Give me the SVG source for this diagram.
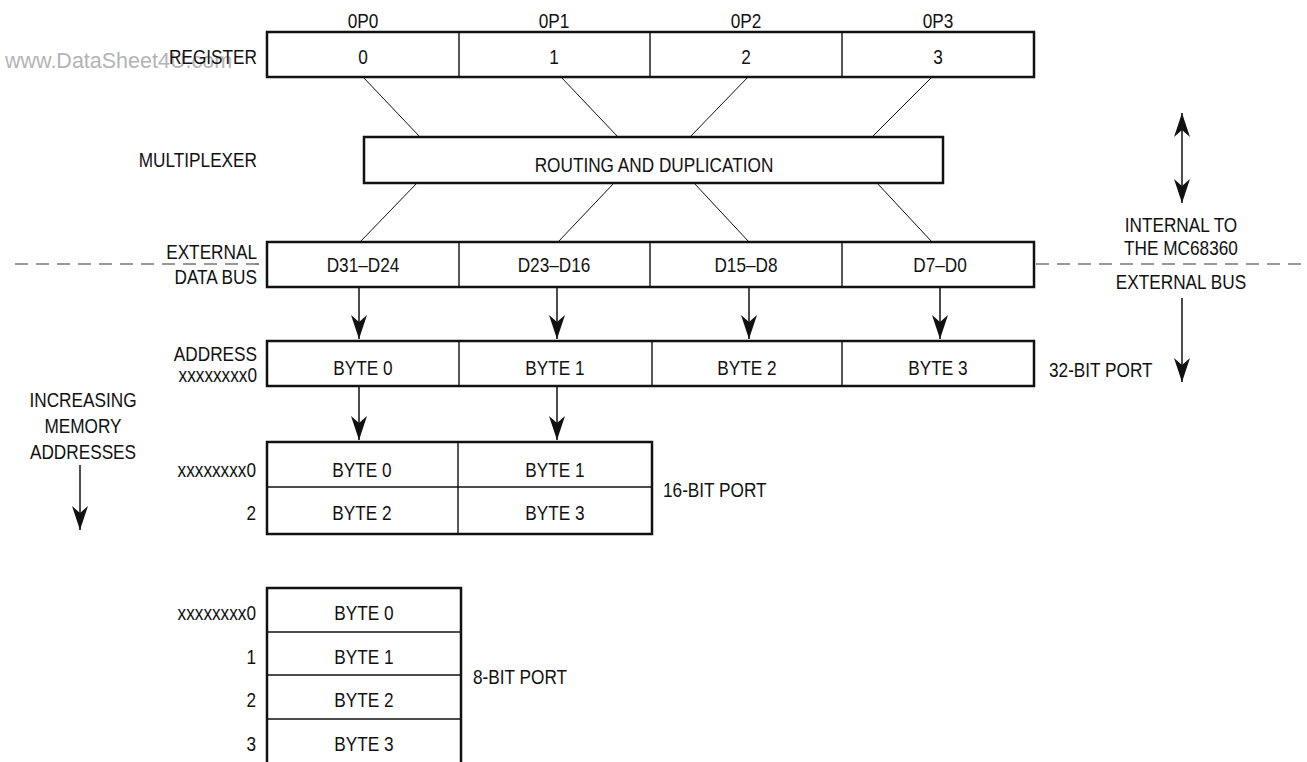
<svg xmlns="http://www.w3.org/2000/svg" width="1307" height="762" viewBox="0 0 1307 762">
<style>
text{font-family:"Liberation Sans",Arial,sans-serif;font-size:21px;fill:#111}
.c{text-anchor:middle}.r{text-anchor:end}
.box{fill:#fff;stroke:#111;stroke-width:2.5}
.div{stroke:#111;stroke-width:1.4;fill:none}
.diag{stroke:#111;stroke-width:1;fill:none}
.arr{stroke:#111;stroke-width:1.5;fill:none;marker-end:url(#ah)}
.dash{stroke:#333;stroke-width:1.2;stroke-dasharray:13 8;fill:none}
.wm{font-family:"Liberation Sans",Arial,sans-serif;font-size:21.5px;fill:#b4b4b4}
</style>
<defs>
<marker id="ah" viewBox="0 0 24 16" refX="24" refY="8" markerWidth="24" markerHeight="16" markerUnits="userSpaceOnUse" orient="auto-start-reverse">
<path d="M0,0 L24,8 L0,16 L7,8 Z" fill="#111"/>
</marker>
</defs>
<rect width="1307" height="762" fill="#fff"/>
<text class="wm" x="5" y="68">www.DataSheet4U.com</text>

<g id="connectors">
<line class="diag" x1="363" y1="77" x2="420" y2="137"/>
<line class="diag" x1="561" y1="77" x2="618" y2="137"/>
<line class="diag" x1="748" y1="77" x2="690" y2="137"/>
<line class="diag" x1="932" y1="77" x2="872" y2="137"/>
<line class="diag" x1="417" y1="183" x2="360" y2="242"/>
<line class="diag" x1="614" y1="183" x2="558" y2="242"/>
<line class="diag" x1="694" y1="183" x2="749" y2="242"/>
<line class="diag" x1="877" y1="183" x2="932" y2="242"/>
<line class="arr" x1="359" y1="287" x2="359" y2="339"/>
<line class="arr" x1="557" y1="287" x2="557" y2="339"/>
<line class="arr" x1="749" y1="287" x2="749" y2="339"/>
<line class="arr" x1="940" y1="287" x2="940" y2="339"/>
<line class="arr" x1="359" y1="386" x2="359" y2="440"/>
<line class="arr" x1="557" y1="386" x2="557" y2="440"/>
<line class="arr" x1="80" y1="465" x2="80" y2="530"/>
<line class="arr" x1="1182" y1="113" x2="1182" y2="203" style="marker-start:url(#ah)"/>
<line class="arr" x1="1182" y1="298" x2="1182" y2="382"/>
<line class="dash" x1="15" y1="264" x2="267" y2="264"/>
<line class="dash" x1="1036" y1="264" x2="1307" y2="264"/>
</g>

<g id="register">
<text class="r" transform="translate(257,64) scale(.82,1)">REGISTER</text>
<rect class="box" x="267" y="32" width="767" height="45"/>
<line class="div" x1="459" y1="32" x2="459" y2="77"/>
<line class="div" x1="650" y1="32" x2="650" y2="77"/>
<line class="div" x1="842" y1="32" x2="842" y2="77"/>
<text class="c" transform="translate(363,28) scale(.82,1)">0P0</text>
<text class="c" transform="translate(554,28) scale(.82,1)">0P1</text>
<text class="c" transform="translate(746,28) scale(.82,1)">0P2</text>
<text class="c" transform="translate(938,28) scale(.82,1)">0P3</text>
<text class="c" transform="translate(363,64) scale(.82,1)">0</text>
<text class="c" transform="translate(554,64) scale(.82,1)">1</text>
<text class="c" transform="translate(746,64) scale(.82,1)">2</text>
<text class="c" transform="translate(938,64) scale(.82,1)">3</text>
</g>

<g id="multiplexer">
<text class="r" transform="translate(257,167) scale(.82,1)">MULTIPLEXER</text>
<rect class="box" x="364" y="137" width="579" height="46"/>
<text class="c" transform="translate(654,172) scale(.82,1)">ROUTING AND DUPLICATION</text>
</g>

<g id="external-bus">
<text class="r" transform="translate(257,259) scale(.82,1)">EXTERNAL</text>
<text class="r" transform="translate(257,284) scale(.82,1)">DATA BUS</text>
<rect class="box" x="267" y="242" width="767" height="45"/>
<line class="div" x1="459" y1="242" x2="459" y2="287"/>
<line class="div" x1="650" y1="242" x2="650" y2="287"/>
<line class="div" x1="842" y1="242" x2="842" y2="287"/>
<text class="c" transform="translate(363,272) scale(.82,1)">D31–D24</text>
<text class="c" transform="translate(554,272) scale(.82,1)">D23–D16</text>
<text class="c" transform="translate(746,272) scale(.82,1)">D15–D8</text>
<text class="c" transform="translate(940,272) scale(.82,1)">D7–D0</text>
</g>

<g id="port32">
<text class="r" transform="translate(257,361) scale(.82,1)">ADDRESS</text>
<text class="r" transform="translate(257,382) scale(.82,1)">xxxxxxxx0</text>
<rect class="box" x="267" y="341" width="767" height="45"/>
<line class="div" x1="459" y1="341" x2="459" y2="386"/>
<line class="div" x1="652" y1="341" x2="652" y2="386"/>
<line class="div" x1="842" y1="341" x2="842" y2="386"/>
<text class="c" transform="translate(363,375) scale(.82,1)">BYTE 0</text>
<text class="c" transform="translate(555,375) scale(.82,1)">BYTE 1</text>
<text class="c" transform="translate(747,375) scale(.82,1)">BYTE 2</text>
<text class="c" transform="translate(938,375) scale(.82,1)">BYTE 3</text>
<text transform="translate(1049,377) scale(.82,1)">32-BIT PORT</text>
</g>

<g id="port16">
<text class="r" transform="translate(256,477) scale(.82,1)">xxxxxxxx0</text>
<text class="r" transform="translate(256,520) scale(.82,1)">2</text>
<rect class="box" x="267" y="442" width="385" height="92"/>
<line class="div" x1="267" y1="487" x2="652" y2="487"/>
<line class="div" x1="458" y1="442" x2="458" y2="534"/>
<text class="c" transform="translate(362,477) scale(.82,1)">BYTE 0</text>
<text class="c" transform="translate(555,477) scale(.82,1)">BYTE 1</text>
<text class="c" transform="translate(362,520) scale(.82,1)">BYTE 2</text>
<text class="c" transform="translate(555,520) scale(.82,1)">BYTE 3</text>
<text transform="translate(663,497) scale(.82,1)">16-BIT PORT</text>
</g>

<g id="port8">
<text class="r" transform="translate(256,620) scale(.82,1)">xxxxxxxx0</text>
<text class="r" transform="translate(256,664) scale(.82,1)">1</text>
<text class="r" transform="translate(256,707) scale(.82,1)">2</text>
<text class="r" transform="translate(256,751) scale(.82,1)">3</text>
<rect class="box" x="267" y="588" width="194" height="190"/>
<line class="div" x1="267" y1="632" x2="461" y2="632"/>
<line class="div" x1="267" y1="675" x2="461" y2="675"/>
<line class="div" x1="267" y1="719" x2="461" y2="719"/>
<text class="c" transform="translate(364,620) scale(.82,1)">BYTE 0</text>
<text class="c" transform="translate(364,664) scale(.82,1)">BYTE 1</text>
<text class="c" transform="translate(364,707) scale(.82,1)">BYTE 2</text>
<text class="c" transform="translate(364,751) scale(.82,1)">BYTE 3</text>
<text transform="translate(473,684) scale(.82,1)">8-BIT PORT</text>
</g>

<g id="memory-label">
<text class="c" transform="translate(83,407) scale(.82,1)">INCREASING</text>
<text class="c" transform="translate(83,433) scale(.82,1)">MEMORY</text>
<text class="c" transform="translate(83,459) scale(.82,1)">ADDRESSES</text>
</g>

<g id="boundary-label">
<text class="c" transform="translate(1181,232) scale(.82,1)">INTERNAL TO</text>
<text class="c" transform="translate(1181,255) scale(.82,1)">THE MC68360</text>
<text class="c" transform="translate(1181,289) scale(.82,1)">EXTERNAL BUS</text>
</g>
</svg>
